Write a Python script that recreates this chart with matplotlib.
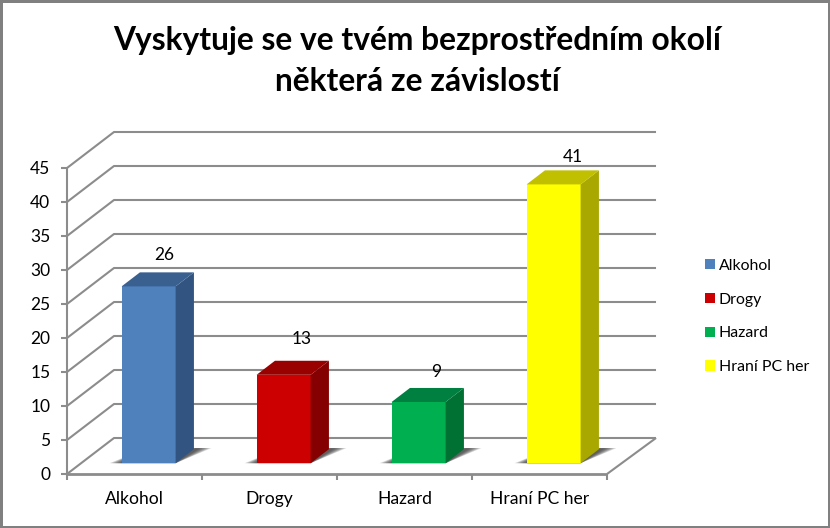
import matplotlib
matplotlib.use('Agg')
import matplotlib.pyplot as plt
from matplotlib.patches import Polygon, Rectangle

plt.rcParams['font.family'] = ['Lato', 'DejaVu Sans']

title = "Vyskytuje se ve tvém bezprostředním okolí\nněkterá ze závislostí"
categories = ["Alkohol", "Drogy", "Hazard", "Hraní PC her"]
values = [26, 13, 9, 41]
front_colors = ["#4F81BD", "#CC0000", "#00B050", "#FFFF00"]
side_colors = ["#325480", "#850000", "#007033", "#A8A800"]
top_colors = ["#3A6090", "#990000", "#008040", "#C0C000"]
yticks = list(range(0, 50, 5))
# the value labels sit a bit differently on each bar (pixels)
label_dx = [-3, 0, -1, 1]
label_dy = [9, 14, 8, 5]

W, H = 830, 528
GREY = "#8C8C8C"

fig = plt.figure(figsize=(W / 100, H / 100), dpi=100, facecolor="white")
# axes = front plane of the 3D box
ax = fig.add_axes([67 / W, 1 - 474 / H, 540 / W, 306 / H])
ax.set_xlim(0, 4)
ax.set_ylim(0, 45)
ax.patch.set_alpha(0)
for s in ax.spines.values():
    s.set_visible(False)

# shift of the back wall, in data units
DX = 47 / 135
DY = 36 / 6.8


def pr(x, y, d):
    return (x + d * DX, y + d * DY)


def poly(pts, **kw):
    p = Polygon(pts, closed=True, clip_on=False, **kw)
    ax.add_patch(p)
    return p


def line(pts, lw=1.5, z=1):
    ax.plot([p[0] for p in pts], [p[1] for p in pts], color=GREY, lw=lw,
            clip_on=False, zorder=z, solid_capstyle="butt")


# wall gridlines and left side
for t in yticks:
    line([pr(0, t, 0), pr(0, t, 1), pr(4.015, t, 1)])
line([pr(0, 0, 0), pr(0, 45, 0)])
# floor
line([pr(4, 0, 0), pr(4.015, 0, 1)])
line([pr(0, 0, 0), pr(4, 0, 0)], lw=2, z=2)

# bars with soft floor shadow
for i, v in enumerate(values):
    x0, x1 = i + 0.3, i + 0.7
    d0, d1 = 0.3, 0.69
    for k in range(8):
        g = k * 0.012
        poly([pr(x0 - 0.09 + g, 0, d0), pr(x1, 0, d0), pr(x1 + 0.12 - g, 0, d1 + 0.03),
              pr(x1, 0, d1 + 0.03), pr(x0 - 0.02, 0, d0 + 0.22 - g)],
             facecolor="#303030", alpha=0.16, edgecolor="none", zorder=3)
    poly([pr(x0, 0, d0), pr(x1, 0, d0), pr(x1, v, d0), pr(x0, v, d0)],
         facecolor=front_colors[i], edgecolor="none", zorder=5)
    poly([pr(x1, 0, d0), pr(x1, 0, d1), pr(x1, v, d1), pr(x1, v, d0)],
         facecolor=side_colors[i], edgecolor="none", zorder=5)
    poly([pr(x0, v, d0), pr(x1, v, d0), pr(x1, v, d1), pr(x0, v, d1)],
         facecolor=top_colors[i], edgecolor="none", zorder=5)
    ax.annotate(str(v), pr(i + 0.5, v, 0.69), xytext=(label_dx[i], label_dy[i]),
                textcoords="offset pixels", ha="center", va="bottom", fontsize=12.5,
                color="black", annotation_clip=False, zorder=6)

ax.set_yticks(yticks)
ax.set_xticks(range(5))
ax.set_xticklabels([])
ax.tick_params(axis="y", length=4, width=1.5, color=GREY, labelsize=12.5, pad=8)
ax.tick_params(axis="x", length=4, width=1.5, color=GREY, direction="out")
for i, c in enumerate(categories):
    ax.annotate(c, (i + 0.5, 0), xytext=(0, -25), textcoords="offset pixels",
                ha="center", va="center", fontsize=12.6, annotation_clip=False)

fig.text(417 / W, 1 - 61 / H, title, ha="center", va="center", fontsize=22.85,
         fontweight="bold", linespacing=1.5)

# legend
handles = [Rectangle((0, 0), 1, 1, facecolor=c, edgecolor="none") for c in front_colors]
fig.legend(handles, categories, loc="center left", bbox_to_anchor=(705 / W, 1 - 316.5 / H),
           frameon=False, fontsize=11.4, handlelength=0.63, handleheight=0.63,
           handletextpad=0.25, labelspacing=1.25, borderpad=0, borderaxespad=0)

# chart frame
fig.add_artist(Rectangle((0, 0), 1, 1, transform=fig.transFigure, fill=False,
                         edgecolor="#808080", lw=3.6))

fig.savefig("out.png", dpi=100)
